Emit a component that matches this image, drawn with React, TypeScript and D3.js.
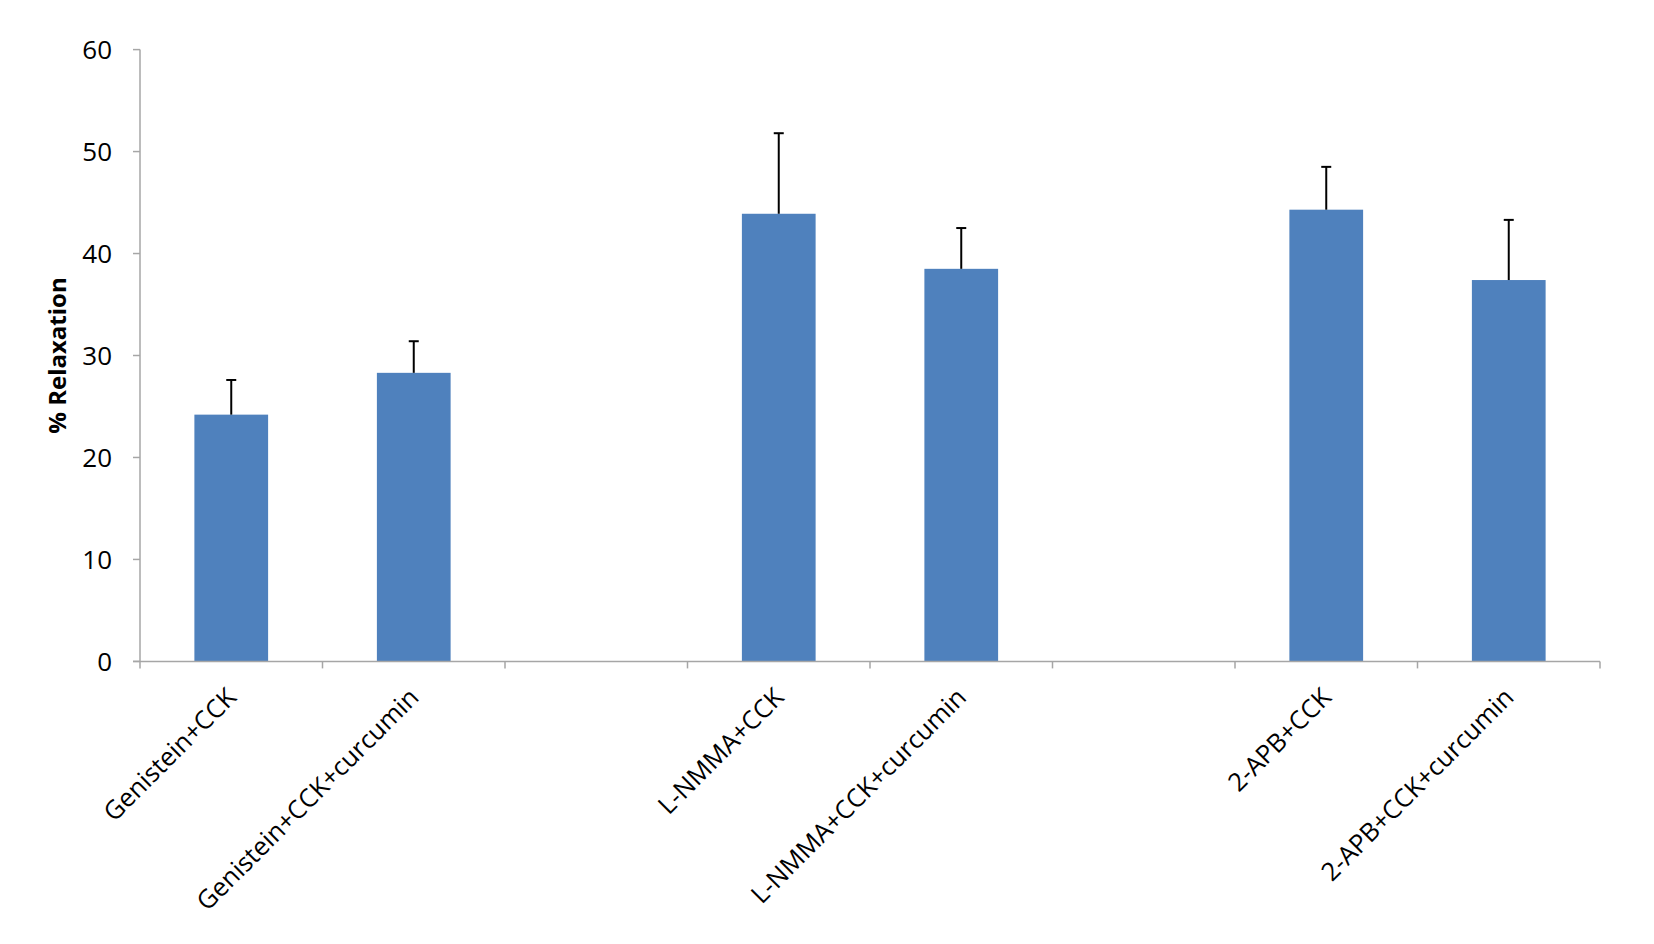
import React, { useEffect, useRef } from "react";
import * as d3 from "d3";

const categories = [
  "Genistein+CCK",
  "Genistein+CCK+curcumin",
  "",
  "L-NMMA+CCK",
  "L-NMMA+CCK+curcumin",
  "",
  "2-APB+CCK",
  "2-APB+CCK+curcumin",
];
const means: (number | null)[] = [24.2, 28.3, null, 43.9, 38.5, null, 44.3, 37.4];
const errors: (number | null)[] = [3.4, 3.1, null, 7.9, 4.0, null, 4.2, 5.9];
const yTicks = [0, 10, 20, 30, 40, 50, 60];

const W = 1654;
const H = 944;
const M = { left: 140, right: 54, top: 49.6, bottom: 282.6 };

export default function App() {
  const ref = useRef<SVGSVGElement | null>(null);

  useEffect(() => {
    const svg = d3.select(ref.current);
    svg.selectAll("*").remove();
    const x0 = M.left;
    const x1 = W - M.right;
    const y0 = H - M.bottom;
    const y1 = M.top;

    const idx = categories.map((_, i) => String(i));
    const x = d3.scaleBand<string>().domain(idx).range([x0, x1]).paddingInner(0).paddingOuter(0);
    const y = d3.scaleLinear().domain([0, 60]).range([y0, y1]);
    const barW = x.bandwidth() * 0.404;
    const font = "'Open Sans', 'Noto Sans', sans-serif";
    const axisColor = "#A6A6A6";

    const g = svg.append("g");

    // bars
    categories.forEach((c, i) => {
      const v = means[i];
      if (v == null) return;
      const cx = (x(String(i)) as number) + x.bandwidth() / 2;
      g.append("rect")
        .attr("x", cx - barW / 2)
        .attr("y", y(v))
        .attr("width", barW)
        .attr("height", y(0) - y(v))
        .attr("fill", "#4F81BD");
    });

    // error bars
    categories.forEach((c, i) => {
      const v = means[i];
      const e = errors[i];
      if (v == null || e == null) return;
      const cx = (x(String(i)) as number) + x.bandwidth() / 2;
      g.append("line")
        .attr("x1", cx).attr("x2", cx)
        .attr("y1", y(v)).attr("y2", y(v + e))
        .attr("stroke", "#000").attr("stroke-width", 2);
      g.append("line")
        .attr("x1", cx - 5).attr("x2", cx + 5)
        .attr("y1", y(v + e)).attr("y2", y(v + e))
        .attr("stroke", "#000").attr("stroke-width", 2);
    });

    // y axis
    g.append("line")
      .attr("x1", x0).attr("x2", x0).attr("y1", y1).attr("y2", y0)
      .attr("stroke", axisColor).attr("stroke-width", 1.5);
    yTicks.forEach((t) => {
      g.append("line")
        .attr("x1", x0 - 7).attr("x2", x0).attr("y1", y(t)).attr("y2", y(t))
        .attr("stroke", axisColor).attr("stroke-width", 1.5);
      g.append("text")
        .attr("x", x0 - 28).attr("y", y(t)).attr("dy", "0.36em")
        .attr("text-anchor", "end")
        .attr("font-family", font).attr("font-size", 26)
        .attr("fill", "#000")
        .text(String(t));
    });

    // x axis
    g.append("line")
      .attr("x1", x0 - 7).attr("x2", x1).attr("y1", y0).attr("y2", y0)
      .attr("stroke", axisColor).attr("stroke-width", 1.5);
    idx.forEach((d) => {
      const xx = x(d) as number;
      g.append("line")
        .attr("x1", xx).attr("x2", xx).attr("y1", y0).attr("y2", y0 + 7)
        .attr("stroke", axisColor).attr("stroke-width", 1.5);
    });
    g.append("line")
      .attr("x1", x1).attr("x2", x1).attr("y1", y0).attr("y2", y0 + 7)
      .attr("stroke", axisColor).attr("stroke-width", 1.5);

    categories.forEach((c, i) => {
      if (!c) return;
      const cx = (x(String(i)) as number) + x.bandwidth() / 2;
      g.append("text")
        .attr("transform", `translate(${cx - 6},${y0 + 25}) rotate(-45)`)
        .attr("text-anchor", "end")
        .attr("dy", "0.7em")
        .attr("font-family", font).attr("font-size", 25.5)
        .attr("fill", "#000")
        .text(c);
    });

    // y title
    g.append("text")
      .attr("transform", `translate(${66},${(y0 + y1) / 2}) rotate(-90)`)
      .attr("text-anchor", "middle")
      .attr("font-family", font).attr("font-size", 24).attr("font-weight", "bold")
      .attr("fill", "#000")
      .text("% Relaxation");
  }, []);

  return (
    <svg
      ref={ref}
      width={W}
      height={H}
      style={{ position: "absolute", left: 0, top: 0, background: "#fff" }}
    />
  );
}
